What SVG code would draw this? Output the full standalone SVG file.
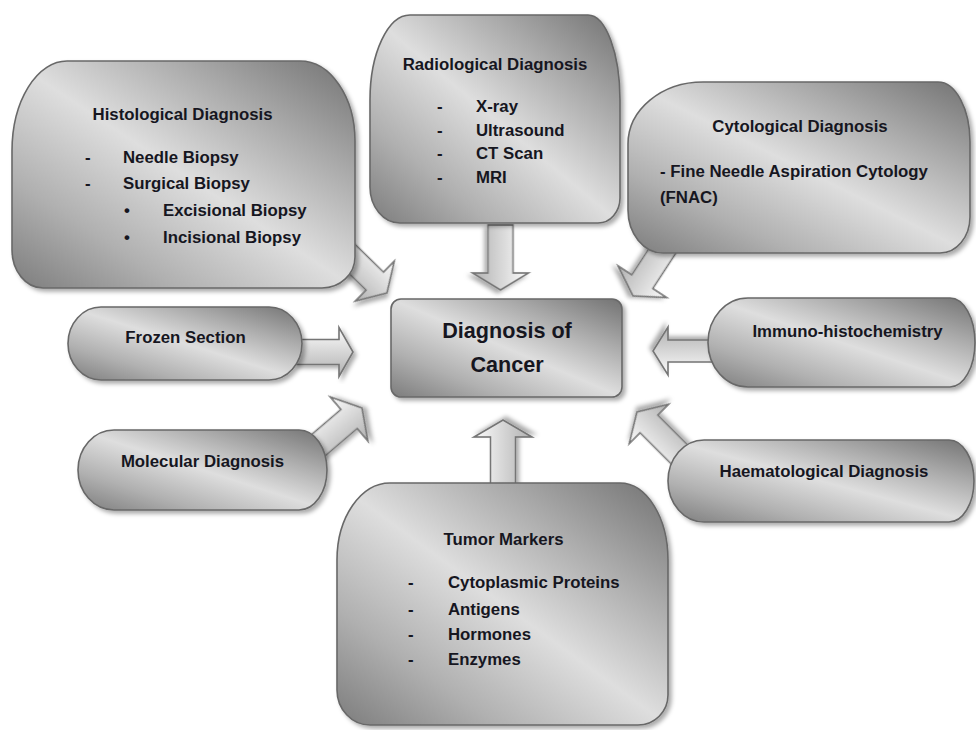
<svg xmlns="http://www.w3.org/2000/svg" width="976" height="730" viewBox="0 0 976 730">
  <defs>
    <linearGradient id="metal" x1="1" y1="0" x2="0" y2="1">
      <stop offset="0" stop-color="#727272"/>
      <stop offset="0.25" stop-color="#a9a9a9"/>
      <stop offset="0.5" stop-color="#dedede"/>
      <stop offset="0.76" stop-color="#b0b0b0"/>
      <stop offset="1" stop-color="#7c7c7c"/>
    </linearGradient>
    <linearGradient id="arrowFill" x1="0" y1="0" x2="0" y2="1">
      <stop offset="0" stop-color="#fcfcfc"/>
      <stop offset="1" stop-color="#b0b0b0"/>
    </linearGradient>
    <filter id="shadow" x="-10%" y="-10%" width="125%" height="125%">
      <feDropShadow dx="3" dy="3" stdDeviation="2.2" flood-color="#000" flood-opacity="0.33"/>
    </filter>
  </defs>
  <style>
    .box { fill: url(#metal); stroke: #686868; stroke-width: 1.6; filter: url(#shadow); }
    .arrow { fill: url(#arrowFill); stroke: #747474; stroke-width: 1.6; stroke-linejoin: miter; filter: url(#shadow); }
    text { font-family: "Liberation Sans", Arial, sans-serif; font-weight: bold; font-size: 16.8px; fill: #16161f; }
    .head { text-anchor: middle; }
    .mid { text-anchor: middle; }
    .big { font-size: 21.6px; text-anchor: middle; }
  </style>
  <rect width="976" height="730" fill="#ffffff"/>

  <!-- block arrows pointing at the central box -->
  <g id="connectors">
    <path class="arrow" transform="translate(500.5,225) rotate(90)" d="M0,-12.5 H48 V-28 L65,0 L48,28 V12.5 H0 Z"/>
    <path class="arrow" transform="translate(503,490) rotate(-90)" d="M0,-12.5 H53 V-29 L70,0 L53,29 V12.5 H0 Z"/>
    <path class="arrow" transform="translate(295,352)" d="M0,-12.5 H44 V-24.5 L58,0 L44,24.5 V12.5 H0 Z"/>
    <path class="arrow" transform="translate(715,351) rotate(180)" d="M0,-11 H47 V-24 L62,0 L47,24 V11 H0 Z"/>
    <path class="arrow" transform="translate(338.3,245.5) rotate(44.3)" d="M0,-12.5 H51 V-28 L68,0 L51,28 V12.5 H0 Z"/>
    <path class="arrow" transform="translate(668.5,241.5) rotate(123.1)" d="M0,-12.5 H48 V-29 L65,0 L48,29 V12.5 H0 Z"/>
    <path class="arrow" transform="translate(310.3,452.1) rotate(-40.5)" d="M0,-12.5 H51 V-29 L68,0 L51,29 V12.5 H0 Z"/>
    <path class="arrow" transform="translate(685,460) rotate(-135)" d="M0,-12.5 H51 V-28 L68,0 L51,28 V12.5 H0 Z"/>
  </g>

  <g id="histological">
    <path class="box" d="M67,61 H300 A55 80 0 0 1 355,141 V257 A33 31 0 0 1 322,288 H43 A31 38 0 0 1 12,250 V151 A55 90 0 0 1 67,61 Z"/>
    <text class="head" x="182.5" y="120">Histological Diagnosis</text>
    <text x="85" y="163">-</text>
    <text x="123" y="163">Needle Biopsy</text>
    <text x="85" y="189">-</text>
    <text x="123" y="189">Surgical Biopsy</text>
    <text x="124" y="216">•</text>
    <text x="163" y="216">Excisional Biopsy</text>
    <text x="124" y="243">•</text>
    <text x="163" y="243">Incisional Biopsy</text>
  </g>

  <g id="radiological">
    <path class="box" d="M410,15 H588 A32 85 0 0 1 620,100 V198 A22 25 0 0 1 598,223 H400 A30 36 0 0 1 370,187 V100 A40 85 0 0 1 410,15 Z"/>
    <text class="head" x="495" y="70">Radiological Diagnosis</text>
    <text x="437" y="112">-</text>
    <text x="476" y="112">X-ray</text>
    <text x="437" y="136">-</text>
    <text x="476" y="136">Ultrasound</text>
    <text x="437" y="159">-</text>
    <text x="476" y="159">CT Scan</text>
    <text x="437" y="183">-</text>
    <text x="476" y="183">MRI</text>
  </g>

  <g id="cytological">
    <path class="box" d="M703,82 H938 A32 60 0 0 1 970,142 V217 A30 36 0 0 1 940,253 H663 A35 43 0 0 1 628,210 V144 A75 62 0 0 1 703,82 Z"/>
    <text class="head" x="800" y="132">Cytological Diagnosis</text>
    <text x="660" y="177">- Fine Needle Aspiration Cytology</text>
    <text x="660" y="203">(FNAC)</text>
  </g>

  <g id="frozen-section">
    <path class="box" d="M101,307 H269 A33 36.5 0 0 1 302,343.5 A33 36.5 0 0 1 269,380 H101 A33 36.5 0 0 1 68,343.5 A33 36.5 0 0 1 101,307 Z"/>
    <text class="mid" x="185.5" y="343">Frozen Section</text>
  </g>

  <g id="molecular">
    <path class="box" d="M114,430 H299 A28 40 0 0 1 327,470 A28 40 0 0 1 299,510 H114 A36 40 0 0 1 78,470 A36 40 0 0 1 114,430 Z"/>
    <text class="mid" x="202.5" y="467">Molecular Diagnosis</text>
  </g>

  <g id="immuno">
    <path class="box" d="M748,298 H950 A25 44.5 0 0 1 975,342.5 A25 44.5 0 0 1 950,387 H748 A40 44.5 0 0 1 708,342.5 A40 44.5 0 0 1 748,298 Z"/>
    <text class="mid" x="847.5" y="337">Immuno-histochemistry</text>
  </g>

  <g id="haematological">
    <path class="box" d="M704,440 H949 A25 41 0 0 1 974,481 A25 41 0 0 1 949,522 H704 A36 41 0 0 1 668,481 A36 41 0 0 1 704,440 Z"/>
    <text class="mid" x="824" y="477">Haematological Diagnosis</text>
  </g>

  <g id="tumor-markers">
    <path class="box" d="M390,483 H620 A48 77 0 0 1 668,560 V695 A30 30 0 0 1 638,725 H370 A33 35 0 0 1 337,690 V560 A53 77 0 0 1 390,483 Z"/>
    <text class="head" x="503.5" y="545">Tumor Markers</text>
    <text x="408" y="588">-</text>
    <text x="448" y="588">Cytoplasmic Proteins</text>
    <text x="408" y="615">-</text>
    <text x="448" y="615">Antigens</text>
    <text x="408" y="640">-</text>
    <text x="448" y="640">Hormones</text>
    <text x="408" y="665">-</text>
    <text x="448" y="665">Enzymes</text>
  </g>

  <g id="diagnosis-of-cancer">
    <rect class="box" x="391" y="299" width="231" height="98" rx="10" ry="10"/>
    <text class="big" x="507" y="338">Diagnosis of</text>
    <text class="big" x="507" y="372">Cancer</text>
  </g>
</svg>
